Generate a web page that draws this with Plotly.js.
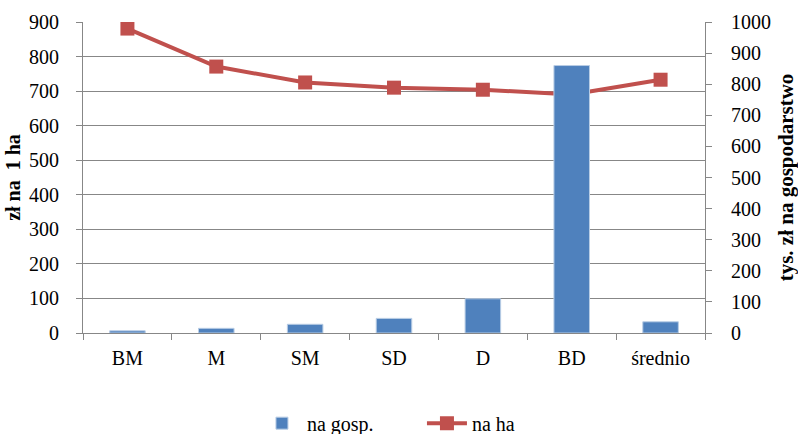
<!DOCTYPE html>
<html>
<head>
<meta charset="utf-8">
<script src="https://cdn.plot.ly/plotly-3.0.1.min.js"></script>
<style>html,body{margin:0;padding:0;background:#fff;}#chart{width:798px;height:434px;}</style>
</head>
<body>
<div id="chart"></div>
<script>
const categories = ["BM", "M", "SM", "SD", "D", "BD", "średnio"];
const naGosp = [7, 15, 28, 47, 110, 860, 36];      // tys. zł na gospodarstwo (right axis)
const naHa = [881, 771, 725, 710, 704, 690, 733];  // zł na 1 ha (left axis)

const font = "Times New Roman";
const gridColor = "#878787";

const traces = [
  {
    type: "bar",
    name: "na gosp.",
    x: categories,
    y: naGosp,
    yaxis: "y2",
    marker: {color: "#4F81BD", line: {color: "#B9CDE5", width: 1}}
  },
  {
    type: "scatter",
    mode: "lines+markers",
    name: "na ha",
    x: categories,
    y: naHa,
    yaxis: "y",
    line: {color: "#C0504D", width: 4},
    marker: {symbol: "square", size: 14, color: "#C0504D"}
  }
];

const layout = {
  width: 798,
  height: 434,
  margin: {l: 83, r: 93, t: 22, b: 101},
  paper_bgcolor: "#fff",
  plot_bgcolor: "#fff",
  font: {family: font, size: 20, color: "#000"},
  bargap: 0.6,
  showlegend: true,
  legend: {orientation: "h", xref: "container", x: 0.322, xanchor: "left", yref: "container", y: 0.025, yanchor: "middle",
           font: {family: font, size: 20}, traceorder: "normal", itemwidth: 40, entrywidth: 110},
  xaxis: {
    type: "category",
    showline: true, linecolor: gridColor, linewidth: 1,
    ticks: "outside", ticklen: 6, tickcolor: gridColor, tickson: "boundaries",
    showgrid: false,
    ticklabelstandoff: 7,
    tickfont: {family: font, size: 20}
  },
  yaxis: {
    range: [0, 900], dtick: 100, tick0: 0,
    showline: true, linecolor: gridColor, linewidth: 1,
    ticks: "outside", ticklen: 6, tickcolor: gridColor,
    showgrid: true, gridcolor: gridColor, gridwidth: 1,
    zeroline: false,
    ticklabelstandoff: 13,
    tickfont: {family: font, size: 20},
    title: {text: "zł na  1 ha", font: {family: font, size: 20, weight: "bold"}, standoff: 3}
  },
  yaxis2: {
    range: [0, 1000], dtick: 100, tick0: 0,
    overlaying: "y", side: "right",
    showline: true, linecolor: gridColor, linewidth: 1,
    ticks: "outside", ticklen: 6, tickcolor: gridColor,
    showgrid: false, zeroline: false,
    ticklabelstandoff: 15,
    tickfont: {family: font, size: 20},
    title: {text: "tys. zł na gospodarstwo", font: {family: font, size: 21, weight: "bold"}, standoff: 8}
  }
};

Plotly.newPlot("chart", traces, layout, {displayModeBar: false, staticPlot: true});
</script>
</body>
</html>
